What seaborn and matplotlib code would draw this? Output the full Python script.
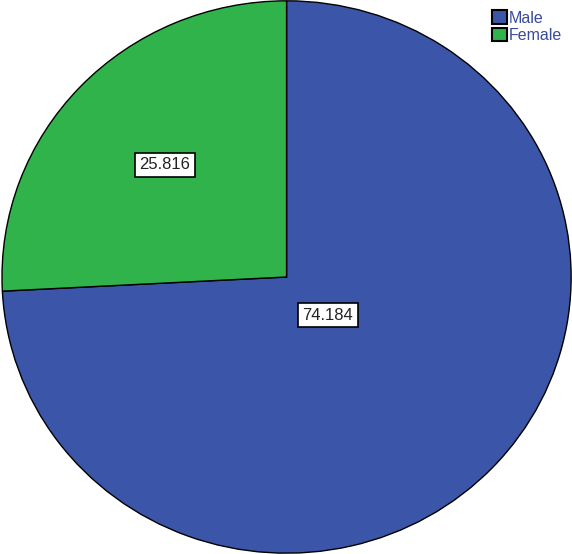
import matplotlib
matplotlib.use("Agg")
import matplotlib.pyplot as plt
import seaborn as sns
import numpy as np

sns.set_theme(style="white")
plt.rcParams['font.family'] = ['Liberation Sans', 'DejaVu Sans']

categories = ["Male", "Female"]
values = [74.184, 25.816]
colors = ["#3b56a8", "#2fb34a"]
value_labels = ["74.184", "25.816"]

fig = plt.figure(figsize=(5.72, 5.54), dpi=100)
ax = fig.add_axes([0, 0, 1, 1])
wedges, texts = ax.pie(values, colors=colors, startangle=90, counterclock=False,
                       wedgeprops=dict(edgecolor="black", linewidth=1.0))
# labels
for w, lab, name in zip(wedges, value_labels, categories):
    mid = np.deg2rad((w.theta1 + w.theta2) / 2)
    r = 0.2 if name == "Male" else 0.59
    ax.text(r * np.cos(mid), r * np.sin(mid), lab, ha="center", va="center",
            fontsize=12, color="#222222",
            bbox=dict(boxstyle="square,pad=0.28", fc="white", ec="black", lw=1.2))
ax.set_aspect("auto")
ax.set_xlim(-1.007, 1.003)
ax.set_ylim(-1.003, 1.003)
ax.axis("off")

leg = ax.legend(wedges, categories, loc="upper right", bbox_to_anchor=(1.0, 1.0),
                frameon=False, fontsize=11.5, handlelength=0.9, handleheight=0.9,
                handletextpad=0.1, labelspacing=0.15, borderaxespad=0.25)
for t in leg.get_texts():
    t.set_color("#3a4a9c")
for h in leg.legend_handles:
    h.set_linewidth(1.5)
fig.savefig("out.png", dpi=100)
